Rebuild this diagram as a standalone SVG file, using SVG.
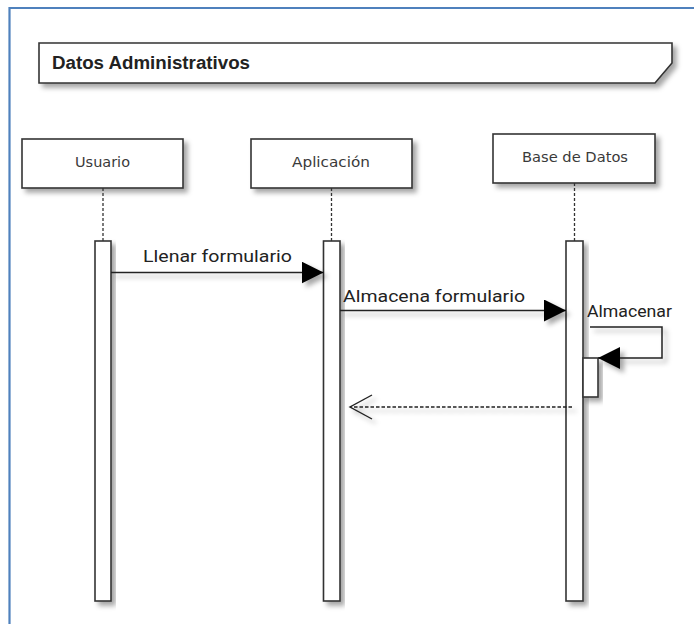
<svg xmlns="http://www.w3.org/2000/svg" width="694" height="624" viewBox="0 0 694 624">
  <style>
    .shape { fill: #ffffff; stroke: #333333; stroke-width: 1.6; }
    .head-label { font-family: "DejaVu Sans", Verdana, sans-serif; font-size: 14px; fill: #3a3a3a; text-anchor: start; }
    .msg-label { font-family: Roboto, "Liberation Sans", sans-serif; font-size: 16.5px; fill: #222222; }
    .title { font-family: "Liberation Sans", Arial, sans-serif; font-size: 18px; font-weight: bold; fill: #222222; }
    .lifeline { stroke: #333333; stroke-width: 1.3; stroke-dasharray: 3 2; fill: none; }
    .msg { stroke: #222222; stroke-width: 1.5; fill: none; }
    .reply { stroke: #222222; stroke-width: 1.3; stroke-dasharray: 3.5 2; fill: none; }
  </style>
  <defs>
    <filter id="shadow" x="-20%" y="-20%" width="150%" height="150%">
      <feDropShadow dx="4" dy="4" stdDeviation="2.5" flood-color="#000000" flood-opacity="0.35"/>
    </filter>
    <marker id="solidHead" markerWidth="24" markerHeight="24" refX="22" refY="11" orient="auto" markerUnits="userSpaceOnUse">
      <path d="M0,0 L22,11 L0,22 Z" fill="#000000"/>
    </marker>
    <marker id="openHead" markerWidth="26" markerHeight="28" refX="23" refY="13" orient="auto" markerUnits="userSpaceOnUse">
      <path d="M1,1 L23,13 L1,25" fill="none" stroke="#222222" stroke-width="1.4"/>
    </marker>
  </defs>

  <rect width="694" height="624" fill="#ffffff"/>

  <!-- page frame -->
  <path d="M9.5,624 V8 H694" fill="none" stroke="#4f81bd" stroke-width="2.2"/>

  <!-- frame title -->
  <g id="frame-title">
    <path class="shape" d="M39,43 H672 V63 L655,83 H39 Z" filter="url(#shadow)"/>
    <text class="title" x="52" y="69" textLength="198" lengthAdjust="spacingAndGlyphs">Datos Administrativos</text>
  </g>

  <!-- lifeline: Usuario -->
  <g id="usuario">
    <rect class="shape" x="22" y="139" width="161" height="49" filter="url(#shadow)"/>
    <text class="head-label" x="75" y="167" textLength="55" lengthAdjust="spacingAndGlyphs">Usuario</text>
    <line class="lifeline" x1="103" y1="188" x2="103" y2="241"/>
    <rect class="shape" x="95" y="241" width="16" height="360" filter="url(#shadow)"/>
  </g>

  <!-- lifeline: Aplicación -->
  <g id="aplicacion">
    <rect class="shape" x="251" y="139" width="161" height="49" filter="url(#shadow)"/>
    <text class="head-label" x="292" y="167" textLength="78" lengthAdjust="spacingAndGlyphs">Aplicación</text>
    <line class="lifeline" x1="331.5" y1="188" x2="331.5" y2="241"/>
    <rect class="shape" x="323.5" y="241" width="16.5" height="360" filter="url(#shadow)"/>
  </g>

  <!-- lifeline: Base de Datos -->
  <g id="base-de-datos">
    <rect class="shape" x="493" y="134" width="162" height="49" filter="url(#shadow)"/>
    <text class="head-label" x="522" y="162" textLength="106" lengthAdjust="spacingAndGlyphs">Base de Datos</text>
    <line class="lifeline" x1="574.5" y1="183" x2="574.5" y2="241"/>
    <rect class="shape" x="566" y="241" width="17" height="360" filter="url(#shadow)"/>
  </g>

  <!-- nested activation for the self call -->
  <g id="almacenar-activation">
    <rect class="shape" x="583" y="358" width="15" height="39" filter="url(#shadow)"/>
  </g>

  <!-- messages -->
  <g id="connectors">
    <g filter="url(#shadow)">
      <line class="msg" x1="111" y1="272.5" x2="323.5" y2="272.5" marker-end="url(#solidHead)"/>
      <line class="msg" x1="340" y1="310.5" x2="566" y2="310.5" marker-end="url(#solidHead)"/>
      <path class="msg" d="M590,327 H662 V358 H598" marker-end="url(#solidHead)"/>
      <line class="reply" x1="572" y1="407" x2="350" y2="407" marker-end="url(#openHead)"/>
    </g>
    <text class="msg-label" x="143" y="262" textLength="149" lengthAdjust="spacingAndGlyphs">Llenar formulario</text>
    <text class="msg-label" x="343" y="301.5" textLength="182" lengthAdjust="spacingAndGlyphs">Almacena formulario</text>
    <text class="msg-label" x="587" y="316.5" textLength="85" lengthAdjust="spacingAndGlyphs">Almacenar</text>
  </g>
</svg>
